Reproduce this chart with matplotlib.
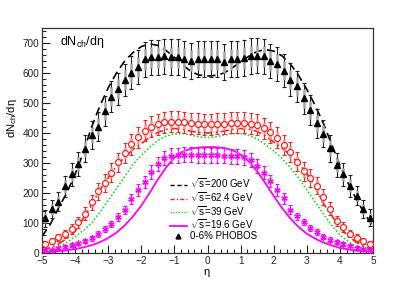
import numpy as np
import matplotlib
matplotlib.use("Agg")
import matplotlib.pyplot as plt
from matplotlib.lines import Line2D
from matplotlib.ticker import MultipleLocator

plt.rcParams['font.family'] = ['Liberation Sans', 'DejaVu Sans']
plt.rcParams['mathtext.fontset'] = 'custom'
plt.rcParams['mathtext.rm'] = 'Liberation Sans'
plt.rcParams['mathtext.it'] = 'Liberation Sans'

# data points (PHOBOS-like), eta bins
eta_pts = [-4.9, -4.7, -4.5, -4.3, -4.1, -3.9, -3.7, -3.5, -3.3, -3.1,
           -2.9, -2.7, -2.5, -2.3, -2.1, -1.9, -1.7, -1.5, -1.3, -1.1,
           -0.9, -0.7, -0.5, -0.3, -0.1, 0.1, 0.3, 0.5, 0.7, 0.9,
           1.1, 1.3, 1.5, 1.7, 1.9, 2.1, 2.3, 2.5, 2.7, 2.9,
           3.1, 3.3, 3.5, 3.7, 3.9, 4.1, 4.3, 4.5, 4.7, 4.9]

phobos_200 = [116, 146, 171, 222, 262, 296, 348, 393, 421, 473,
              521, 547, 577, 601, 619, 645, 652, 652, 655, 652,
              652, 647, 641, 646, 646, 645, 645, 637, 645, 645,
              649, 656, 658, 655, 640, 630, 608, 578, 555, 515,
              475, 432, 398, 349, 293, 262, 224, 191, 147, 118]
err_200 = [28, 30, 32, 36, 38, 40, 44, 46, 48, 50,
           52, 53, 54, 55, 56, 57, 58, 58, 59, 60,
           60, 60, 60, 60, 60, 60, 60, 60, 60, 60,
           60, 59, 58, 58, 57, 56, 55, 54, 53, 52,
           50, 48, 46, 44, 40, 38, 36, 32, 30, 28]

data_62 = [30, 40, 52, 63, 81, 103, 131, 169, 206, 233,
           268, 303, 333, 362, 386, 408, 421, 429, 436, 438,
           438, 435, 432, 430, 429, 429, 430, 430, 434, 434,
           434, 430, 427, 416, 402, 384, 360, 337, 305, 272,
           250, 225, 187, 148, 107, 87, 65, 50, 40, 31]
err_62 = [8, 10, 12, 13, 16, 18, 22, 26, 28, 30,
          31, 32, 33, 34, 35, 35, 35, 35, 35, 35,
          35, 35, 35, 35, 35, 35, 35, 35, 35, 35,
          35, 35, 35, 35, 35, 35, 34, 33, 32, 31,
          30, 28, 26, 22, 18, 16, 13, 12, 10, 8]

data_19 = [10, 11, 16, 21, 27, 32, 40, 49, 64, 79,
           97, 121, 143, 180, 210, 238, 270, 298, 316, 324,
           326, 327, 327, 326, 326, 326, 326, 325, 322, 322,
           320, 310, 290, 268, 240, 210, 182, 145, 122, 104,
           85, 70, 55, 45, 36, 30, 24, 18, 14, 10]
err_19 = [4, 4, 5, 5, 6, 6, 7, 8, 9, 10,
          11, 13, 14, 17, 19, 20, 22, 23, 24, 25,
          25, 25, 25, 25, 25, 25, 25, 25, 25, 25,
          25, 24, 23, 22, 20, 19, 17, 14, 13, 11,
          10, 9, 8, 7, 6, 6, 5, 5, 4, 4]

# model curves
eta_c = [-5.0, -4.75, -4.5, -4.25, -4.0, -3.75, -3.5, -3.25, -3.0, -2.75,
         -2.5, -2.25, -2.0, -1.75, -1.5, -1.25, -1.0, -0.75, -0.5, -0.25,
         0.0, 0.25, 0.5, 0.75, 1.0, 1.25, 1.5, 1.75, 2.0, 2.25,
         2.5, 2.75, 3.0, 3.25, 3.5, 3.75, 4.0, 4.25, 4.5, 4.75, 5.0]

curve_200 = [55, 95, 150, 200, 262, 335, 420, 490, 550, 600,
             640, 668, 688, 697, 692, 675, 652, 627, 605, 593,
             590, 592, 600, 617, 637, 656, 672, 678, 673, 657,
             630, 592, 545, 492, 432, 362, 292, 232, 178, 130, 88]
curve_62 = [10, 18, 30, 48, 72, 115, 160, 210, 250, 290,
            320, 345, 365, 385, 402, 412, 415, 412, 406, 402,
            400, 402, 406, 412, 415, 413, 405, 390, 370, 350,
            327, 300, 265, 220, 165, 125, 85, 55, 36, 20, 12]
curve_39 = [5, 10, 20, 35, 55, 75, 100, 135, 175, 215,
            255, 295, 325, 352, 375, 390, 397, 398, 393, 387,
            385, 387, 393, 398, 398, 392, 380, 362, 340, 315,
            285, 250, 210, 170, 130, 92, 60, 38, 22, 12, 7]
curve_19 = [3, 4, 6, 9, 13, 19, 26, 36, 50, 68,
            92, 122, 158, 200, 245, 285, 318, 338, 348, 352,
            353, 353, 350, 343, 328, 305, 272, 232, 190, 150,
            115, 87, 64, 48, 35, 25, 17, 12, 8, 6, 4]


def draw_points(ax, x, y, e, bar_col, light, **kw):
    y = np.array(y, dtype=float)
    e = np.array(e, dtype=float)
    ax.errorbar(x, y, yerr=e, fmt='none', ecolor=bar_col, elinewidth=0.8,
                capsize=1.4, capthick=0.8, zorder=3)
    ax.vlines(x, y - 0.6 * e, y + 0.6 * e, colors=light, linewidth=1.8, zorder=4)
    ax.plot(x, y, linestyle='none', zorder=5, **kw)


fig = plt.figure(figsize=(4.15, 2.81), dpi=100)
ax = fig.add_axes([0.101, 0.0996, 0.798, 0.8008])

ax.plot(eta_c, curve_200, color='black', linestyle=(0, (5, 3)), lw=1.2, zorder=2)
ax.plot(eta_c, curve_62, color='#ff2020', linestyle=(0, (5, 2, 1, 2)), lw=1.2, zorder=2)
ax.plot(eta_c, curve_39, color='#22dd22', linestyle=(0, (1, 1.2)), lw=1.2, zorder=2)
ax.plot(eta_c, curve_19, color='#ff00ff', linestyle='-', lw=1.3, zorder=2)

draw_points(ax, eta_pts, phobos_200, err_200, '#222222', '#a8a8a8',
            marker='^', ms=3.8, color='black')
draw_points(ax, eta_pts, data_62, err_62, '#ff2020', '#ff9090',
            marker='o', ms=4.3, mfc='white', mec='#ff2020', mew=0.9)
draw_points(ax, eta_pts, data_19, err_19, '#ff00ff', '#ff90ff',
            marker=(6, 2, 0), ms=4.5, color='#ff00ff', mew=0.9)

ax.set_xlim(-5, 5)
ax.set_ylim(0, 750)
ax.xaxis.set_major_locator(MultipleLocator(1))
ax.xaxis.set_minor_locator(MultipleLocator(0.2))
ax.yaxis.set_major_locator(MultipleLocator(100))
ax.yaxis.set_minor_locator(MultipleLocator(20))
ax.tick_params(which='both', direction='in', labelsize=7.2, colors='#222222',
               top=False, right=False)
ax.tick_params(which='major', length=6, width=0.8, pad=2)
ax.tick_params(axis='x', which='major', pad=2.5)
ax.tick_params(which='minor', length=3, width=0.8)
for s in ax.spines.values():
    s.set_color('#333333')
    s.set_linewidth(0.9)

ax.text(0.055, 0.975, r'dN$_{\rm ch}$/d$\eta$', transform=ax.transAxes,
        fontsize=9, va='top', ha='left')
fig.text(0.029, 0.58, r'dN$_{\rm ch}$/d$\eta$', rotation=90, fontsize=8,
         va='center', ha='center')
fig.text(0.499, 0.022, r'$\eta$', fontsize=8, ha='center', va='baseline')

handles = [
    Line2D([], [], color='black', linestyle=(0, (3, 2)), lw=1.0),
    Line2D([], [], color='#ff2020', linestyle=(0, (3, 1.5, 1, 1.5)), lw=1.0),
    Line2D([], [], color='#22dd22', linestyle=(0, (1, 1)), lw=1.0),
    Line2D([], [], color='#ff00ff', lw=1.3),
    Line2D([], [], color='black', marker='^', ms=3.5, linestyle='none'),
]
labels = [r'$\sqrt{\rm s}$=200 GeV', r'$\sqrt{\rm s}$=62.4 GeV',
          r'$\sqrt{\rm s}$=39 GeV', r'$\sqrt{\rm s}$=19.6 GeV', '0-6% PHOBOS']
ax.legend(handles, labels, loc='upper left', bbox_to_anchor=(0.372, 0.36),
          frameon=False, fontsize=7, handlelength=1.75, handletextpad=0.3,
          labelspacing=0.0, borderpad=0)

fig.savefig('out.png', dpi=100)
